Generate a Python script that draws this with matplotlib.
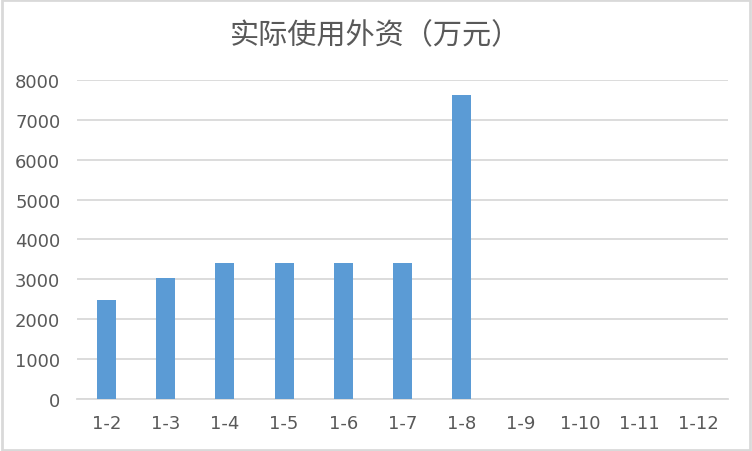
import matplotlib.pyplot as plt
from matplotlib.patches import Rectangle

plt.rcParams['font.family'] = ['Noto Sans CJK SC', 'DejaVu Sans']

# 数据
months = ['1-2', '1-3', '1-4', '1-5', '1-6', '1-7', '1-8', '1-9', '1-10', '1-11', '1-12']
values = [2480, 3030, 3410, 3410, 3410, 3410, 7620, 0, 0, 0, 0]
yticks = [0, 1000, 2000, 3000, 4000, 5000, 6000, 7000, 8000]

text_color = '#595959'
grid_color = '#d9d9d9'

fig = plt.figure(figsize=(7.52, 4.52), dpi=100)
ax = fig.add_axes([0.1024, 0.115, 0.8657, 0.706])

x = range(len(months))
ax.bar(x, values, width=0.32, color='#5b9bd5', zorder=3)

ax.set_xlim(-0.5, len(months) - 0.5)
ax.set_ylim(0, 8000)
ax.set_yticks(yticks)
ax.set_xticks(list(x))
ax.set_xticklabels(months, family='DejaVu Sans')
ax.set_yticklabels([str(v) for v in yticks], family='DejaVu Sans')
ax.tick_params(axis='both', length=0, labelsize=13, colors=text_color)
ax.tick_params(axis='x', pad=11)
ax.tick_params(axis='y', pad=12)

ax.grid(axis='y', color=grid_color, linewidth=1.3, zorder=0)
for s in ['top', 'right', 'left']:
    ax.spines[s].set_visible(False)
ax.spines['bottom'].set_color(grid_color)
ax.spines['bottom'].set_linewidth(1.3)

fig.text(0.5, 0.920, '实际使用外资（万元）', ha='center', va='center',
         fontsize=21, color=text_color)

# 外框
fig.patches.append(Rectangle((0.002, 0.003), 0.995, 0.994, transform=fig.transFigure,
                             fill=False, edgecolor='#d9d9d9', linewidth=2))

fig.savefig('out.png', dpi=100)
